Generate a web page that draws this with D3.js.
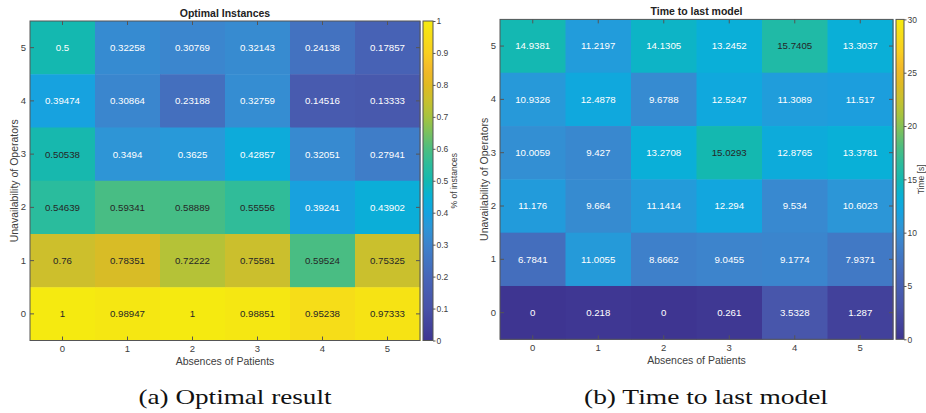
<!DOCTYPE html>
<html>
<head>
<meta charset="utf-8">
<script src="https://cdn.jsdelivr.net/npm/d3@7"></script>
<style>
body{margin:0;background:#fff;}
svg{font-family:"Liberation Sans",Arial,Helvetica,sans-serif;}
</style>
</head>
<body>
<div id="chart"></div>
<script>
// categories
var absences=[0,1,2,3,4,5];
var unavailability=[5,4,3,2,1,0];

// values, one row per unavailability level (5 at the top down to 0)
var optimalRows=[
  [0.5,0.32258,0.30769,0.32143,0.24138,0.17857],
  [0.39474,0.30864,0.23188,0.32759,0.14516,0.13333],
  [0.50538,0.3494,0.3625,0.42857,0.32051,0.27941],
  [0.54639,0.59341,0.58889,0.55556,0.39241,0.43902],
  [0.76,0.78351,0.72222,0.75581,0.59524,0.75325],
  [1,0.98947,1,0.98851,0.95238,0.97333]
];
var timeRows=[
  [14.9381,11.2197,14.1305,13.2452,15.7405,13.3037],
  [10.9326,12.4878,9.6788,12.5247,11.3089,11.517],
  [10.0059,9.427,13.2708,15.0293,12.8765,13.3781],
  [11.176,9.664,11.1414,12.294,9.534,10.6023],
  [6.7841,11.0055,8.6662,9.0455,9.1774,7.9371],
  [0,0.218,0,0.261,3.5328,1.287]
];

// colorbar ticks
var optimalTicks=[0,0.1,0.2,0.3,0.4,0.5,0.6,0.7,0.8,0.9,1];
var timeTicks=[0,5,10,15,20,25,30];

// parula-like colormap
var cmapStops=[0,0.1,0.2,0.3,0.35,0.4,0.45,0.5,0.55,0.6,0.7,0.75,0.8,0.85,0.9,1];
var cmapColors=["#3e3591","#4852a8","#4766b8","#3d83cc","#2e95d6","#14a3e0","#08b1d6","#14b8b0",
  "#2cbc9c","#4cbd80","#a6c33e","#c8c02e","#e0ba22","#f3b82a","#f8cf20","#f5ea10"];

var W=926,H=413;
var axisColor="#555", textColor="#404040";

var svg=d3.select("#chart").append("svg").attr("width",W).attr("height",H);

var cmap=d3.scaleLinear().domain(cmapStops).range(cmapColors).clamp(true);

var defs=svg.append("defs");
var grad=defs.append("linearGradient").attr("id","parula")
  .attr("x1","0%").attr("y1","100%").attr("x2","0%").attr("y2","0%");
d3.range(0,1.0001,0.02).forEach(function(t){
  grad.append("stop").attr("offset",(t*100)+"%").attr("stop-color",cmap(t));
});

function heatmap(cfg){
  var g=svg.append("g");
  var x=d3.scaleBand().domain(absences).range([cfg.x0,cfg.x1]);
  var y=d3.scaleBand().domain(unavailability).range([cfg.y0,cfg.y1]);
  var c=d3.scaleLinear().domain([0,cfg.max]).range([0,1]);

  var cells=[];
  cfg.rows.forEach(function(row,i){
    row.forEach(function(v,j){ cells.push({u:unavailability[i],a:absences[j],v:v}); });
  });

  g.selectAll("rect.cell").data(cells).enter().append("rect")
    .attr("class","cell")
    .attr("x",function(d){return x(d.a);})
    .attr("y",function(d){return y(d.u);})
    .attr("width",x.bandwidth()+0.5)
    .attr("height",y.bandwidth()+0.5)
    .style("fill",function(d){return cmap(c(d.v));});

  g.selectAll("text.val").data(cells).enter().append("text")
    .attr("class","val")
    .attr("x",function(d){return x(d.a)+x.bandwidth()/2;})
    .attr("y",function(d){return y(d.u)+y.bandwidth()/2;})
    .attr("dy","0.35em")
    .style("text-anchor","middle")
    .style("font-size","9.7px")
    .style("fill",function(d){return c(d.v)>0.5?"#262626":"#ffffff";})
    .text(function(d){return String(d.v);});

  // box
  g.append("rect").attr("x",cfg.x0).attr("y",cfg.y0)
    .attr("width",cfg.x1-cfg.x0).attr("height",cfg.y1-cfg.y0)
    .style("fill","none").style("stroke",axisColor).style("stroke-width",1);

  // axes with inward ticks
  var xb=g.append("g").attr("transform","translate(0,"+cfg.y1+")")
    .call(d3.axisBottom(x).tickSizeInner(-4).tickSizeOuter(0).tickPadding(4.5));
  var xt=g.append("g").attr("transform","translate(0,"+cfg.y0+")")
    .call(d3.axisTop(x).tickSizeInner(-4).tickSizeOuter(0).tickFormat(""));
  var yl=g.append("g").attr("transform","translate("+cfg.x0+",0)")
    .call(d3.axisLeft(y).tickSizeInner(-4).tickSizeOuter(0).tickPadding(4));
  var yr=g.append("g").attr("transform","translate("+cfg.x1+",0)")
    .call(d3.axisRight(y).tickSizeInner(-4).tickSizeOuter(0).tickFormat(""));
  [xb,xt,yl,yr].forEach(function(a){
    a.select(".domain").remove();
    a.selectAll("line").style("stroke",axisColor);
    a.selectAll("text").style("fill",textColor).style("font-size","9.5px").style("font-family",null);
  });

  // colorbar
  var cy=d3.scaleLinear().domain([0,cfg.max]).range([cfg.y1,cfg.y0]);
  g.append("rect").attr("x",cfg.cb0).attr("y",cfg.y0)
    .attr("width",cfg.cb1-cfg.cb0).attr("height",cfg.y1-cfg.y0)
    .style("fill","url(#parula)").style("stroke",axisColor).style("stroke-width",1);
  var ca=g.append("g").attr("transform","translate("+cfg.cb1+",0)")
    .call(d3.axisRight(cy).tickValues(cfg.ticks).tickSizeInner(2.5).tickSizeOuter(0).tickPadding(1)
      .tickFormat(function(d){return String(d);}));
  ca.select(".domain").remove();
  ca.selectAll("line").style("stroke",axisColor);
  ca.selectAll("text").style("fill",textColor).style("font-size","8.5px").style("font-family",null);

  // labels
  var mx=(cfg.x0+cfg.x1)/2, my=(cfg.y0+cfg.y1)/2;
  g.append("text").attr("x",mx).attr("y",cfg.y0-4.5)
    .style("text-anchor","middle").style("font-weight","bold").style("font-size","10.5px")
    .style("fill","#222").text(cfg.title);
  g.append("text").attr("x",mx).attr("y",cfg.y1+24.5)
    .style("text-anchor","middle").style("font-size","10.5px")
    .style("fill",textColor).text("Absences of Patients");
  g.append("text").attr("transform","translate("+cfg.ylabX+","+my+") rotate(-90)")
    .attr("dy","0.35em").style("text-anchor","middle").style("font-size","10.5px")
    .style("fill",textColor).text("Unavailability of Operators");
  g.append("text").attr("transform","translate("+cfg.cbLabX+","+my+") rotate(-90)")
    .attr("dy","0.35em").style("text-anchor","middle").style("font-size","8.5px")
    .style("fill",textColor).text(cfg.cbLabel);

  // caption
  g.append("text").attr("x",cfg.capX).attr("y",404)
    .attr("textLength",cfg.capW).attr("lengthAdjust","spacingAndGlyphs")
    .style("text-anchor","middle").style("font-family","'Liberation Serif','Times New Roman',serif")
    .style("font-size","22px").style("fill","#111").text(cfg.caption);
}

heatmap({rows:optimalRows,max:1,ticks:optimalTicks,
  x0:30,x1:420,y0:21,y1:340.5,cb0:423,cb1:433,
  ylabX:14,cbLabX:454,title:"Optimal Instances",cbLabel:"% of instances",
  caption:"(a) Optimal result",capX:235,capW:193});

heatmap({rows:timeRows,max:30,ticks:timeTicks,
  x0:500,x1:893,y0:19.4,y1:339.3,cb0:896,cb1:904,
  ylabX:484,cbLabX:921,title:"Time to last model",cbLabel:"Time [s]",
  caption:"(b) Time to last model",capX:706,capW:244});
</script>
</body>
</html>
